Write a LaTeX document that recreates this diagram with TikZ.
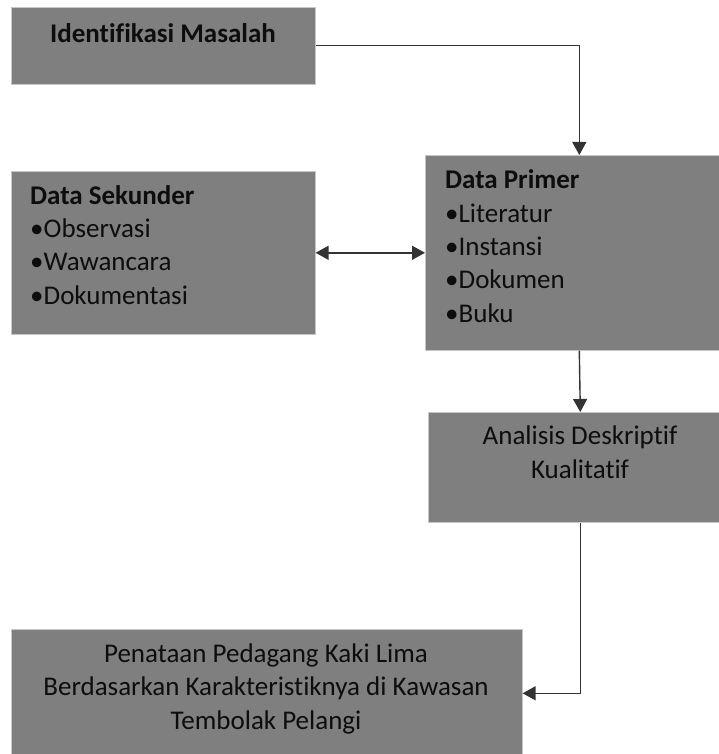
\documentclass[tikz,border=0pt]{standalone}
\usepackage{fontspec}
\setmainfont{Carlito}[Ligatures=CommonOff]
\usetikzlibrary{arrows.meta}
\definecolor{boxgray}{HTML}{7F7F7F}
\definecolor{linegray}{HTML}{333333}
\tikzset{
  >={Triangle[length=13pt,width=14pt]},
  box/.style={fill=boxgray, draw=black!22, line width=0.6pt, inner sep=0pt, anchor=north west},
  txt/.style={inner sep=0pt, text=black!95, font=\fontsize{27}{33.3}\selectfont},
  arr/.style={draw=linegray, line width=1.4pt, ->},
}

\begin{document}
\begin{tikzpicture}[x=1pt,y=1pt]
      \useasboundingbox (0,0) rectangle (719,-754);
      \clip (0,0) rectangle (719,-754);
      % boxes
      \node[box, minimum width=304, minimum height=77] (masalah) at (11,-7) {};
      \node[box, minimum width=304, minimum height=163] (sekunder) at (11,-171) {};
      \node[box, minimum width=308, minimum height=195] (primer) at (425,-155) {};
      \node[box, minimum width=304, minimum height=110] (analisis) at (428,-412) {};
      \node[box, minimum width=511, minimum height=128] (penataan) at (11,-629) {};
      % texts (anchored at the last baseline)
      \node[txt, anchor=base] (masalah-t) at (163,-43) {\textbf{Identifikasi Masalah}};
      \node[txt, anchor=base west, align=left] (sekunder-t) at (30,-304)
        {\textbf{Data Sekunder}\\•Observasi\\•Wawancara\\•Dokumentasi};
      \node[txt, anchor=base west, align=left] (primer-t) at (445,-322)
        {\textbf{Data Primer}\\•Literatur\\•Instansi\\•Dokumen\\•Buku};
      \node[txt, anchor=base, align=center] (analisis-t) at (580,-478)
        {Analisis Deskriptif\\Kualitatif};
      \node[txt, anchor=base, align=center] (penataan-t) at (266,-729)
        {Penataan Pedagang Kaki Lima\\Berdasarkan Karakteristiknya di Kawasan\\Tembolak Pelangi};
      % connectors
      \begin{scope}[arr]
        \draw (masalah.east) -| (primer.north);
        \draw[<->] (sekunder.east) -- (primer.west);
        \draw (primer.south) -- (analisis.north);
        \draw (analisis.south) |- (penataan.east);
      \end{scope}
\end{tikzpicture}
\end{document}
